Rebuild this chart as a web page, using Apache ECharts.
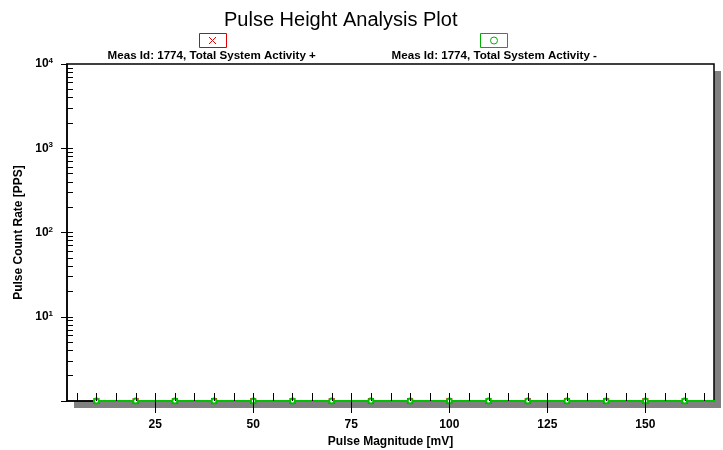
<!DOCTYPE html>
<html>
<head>
<meta charset="utf-8">
<script src="https://cdn.jsdelivr.net/npm/echarts@6/dist/echarts.min.js"></script>
<style>html,body{margin:0;padding:0;background:#fff;}#c{width:723px;height:450px;}</style>
</head>
<body>
<div id="c"></div>
<script>
// ---- data ----
const pulseMagnitude = [10, 20, 30, 40, 50, 60, 70, 80, 90, 100, 110, 120, 130, 140, 150, 160, 170];
const activityPlus  = [1, 1, 1, 1, 1, 1, 1, 1, 1, 1, 1, 1, 1, 1, 1, 1, 1];
const activityMinus = [1, 1, 1, 1, 1, 1, 1, 1, 1, 1, 1, 1, 1, 1, 1, 1, 1];
const seriesNames = ['Meas Id: 1774, Total System Activity +', 'Meas Id: 1774, Total System Activity -'];
const xMajorTicks = [25, 50, 75, 100, 125, 150];
const xMinorTicks = [5,10,15,20,25,30,35,40,45,50,55,60,65,70,75,80,85,90,95,100,105,110,115,120,125,130,135,140,145,150,155,160,165];
const yMinorTicks = [2,3,4,5,6,7,8,9,10,20,30,40,50,60,70,80,90,100,200,300,400,500,600,700,800,900,1000,2000,3000,4000,5000,6000,7000,8000,9000];
const xRange = [2.5, 167.5];
const yRange = [1, 10000];

const FONT = 'Liberation Sans, Arial, sans-serif';
const pairs = a => pulseMagnitude.map((x, i) => [x, a[i]]);

const G = {left: 67, right: 9, top: 64, bottom: 49};
const W = 723, H = 450;
const pw = W - G.left - G.right, ph = H - G.top - G.bottom;

const baseEls = [
  // plot drop shadow (plot face is the grid background)
  {id: 'shadow', type: 'rect', z: -50, shape: {x: G.left + 7, y: G.top + 7, width: pw, height: ph}, style: {fill: '#808080'}},
  // legend symbol boxes
  {id: 'lb1', type: 'rect', shape: {x: 199.5, y: 33.5, width: 27, height: 14}, style: {fill: '#fff', stroke: '#e00000', lineWidth: 1}},
  {id: 'lx1', type: 'polyline', shape: {points: [[209, 37], [216, 44]]}, style: {stroke: '#e00000', lineWidth: 1}},
  {id: 'lx2', type: 'polyline', shape: {points: [[216, 37], [209, 44]]}, style: {stroke: '#e00000', lineWidth: 1}},
  {id: 'lb2', type: 'rect', shape: {x: 480.5, y: 33.5, width: 27, height: 14}, style: {fill: '#fff', stroke: '#00b000', lineWidth: 1}},
  {id: 'lc', type: 'circle', shape: {cx: 494, cy: 40.5, r: 3.5}, style: {fill: 'none', stroke: '#00b000', lineWidth: 1}}
];

const chart = echarts.init(document.getElementById('c'), null, {renderer: 'canvas'});
chart.setOption({
  animation: false,
  backgroundColor: '#fff',
  textStyle: {fontFamily: FONT},
  title: {
    text: 'Pulse Height Analysis Plot',
    left: 219, top: 5,
    textStyle: {fontFamily: FONT, fontSize: 20, fontWeight: 'normal', color: '#000'}
  },
  legend: [
    {data: [seriesNames[0]], left: 96, top: 49, padding: 0, itemWidth: 0, itemHeight: 14,
     itemStyle: {opacity: 0}, selectedMode: false,
     textStyle: {fontFamily: FONT, fontSize: 11.6, fontWeight: 'bold', color: '#000'}},
    {data: [seriesNames[1]], left: 380, top: 49, padding: 0, itemWidth: 0, itemHeight: 14,
     itemStyle: {opacity: 0}, selectedMode: false,
     textStyle: {fontFamily: FONT, fontSize: 11.6, fontWeight: 'bold', color: '#000'}}
  ],
  graphic: {elements: baseEls},
  grid: {
    left: G.left, right: G.right, top: G.top, bottom: G.bottom, z: 0,
    outerBoundsMode: 'none',
    show: true, backgroundColor: '#fff', borderColor: '#000', borderWidth: 1.5
  },
  xAxis: [
    {
      type: 'value', min: xRange[0], max: xRange[1], position: 'bottom', z: 10,
      name: 'Pulse Magnitude [mV]', nameLocation: 'middle', nameGap: 33,
      nameTextStyle: {fontFamily: FONT, fontSize: 12, fontWeight: 'bold', color: '#000'},
      axisLine: {show: true, onZero: false, lineStyle: {color: '#000', width: 1.5}},
      axisTick: {show: false},
      axisLabel: {show: true, customValues: xMajorTicks, margin: 18, fontFamily: FONT, fontSize: 12, fontWeight: 'bold', color: '#000'},
      splitLine: {show: false}
    }
  ],
  yAxis: [
    {
      type: 'log', logBase: 10, min: yRange[0], max: yRange[1], position: 'left', z: 10,
      name: 'Pulse Count Rate [PPS]', nameLocation: 'middle', nameGap: 33,
      nameTextStyle: {fontFamily: FONT, fontSize: 12, fontWeight: 'bold', color: '#000'},
      axisLine: {show: true, onZero: false, lineStyle: {color: '#000', width: 1.5}},
      axisTick: {show: true, inside: false, length: 6, lineStyle: {color: '#000', width: 1}},
      axisLabel: {
        margin: 14,
        formatter: v => v <= 1 ? '' : '{b|10}{s|' + Math.round(Math.log10(v)) + '}',
        rich: {
          b: {fontFamily: FONT, fontSize: 12, fontWeight: 'bold', color: '#000', lineHeight: 14},
          s: {fontFamily: FONT, fontSize: 8, fontWeight: 'bold', color: '#000', verticalAlign: 'top', lineHeight: 8}
        }
      },
      splitLine: {show: false}
    },
    {
      type: 'log', logBase: 10, min: yRange[0], max: yRange[1], position: 'left', offset: 0, gridIndex: 0, z: 10,
      axisLine: {show: false, onZero: false},
      axisTick: {show: true, inside: true, length: 6, customValues: yMinorTicks, lineStyle: {color: '#000', width: 1}},
      axisLabel: {show: false},
      splitLine: {show: false}
    }
  ],
  series: [
    {
      name: seriesNames[0], type: 'line', xAxisIndex: 0, yAxisIndex: 0,
      data: pairs(activityPlus), clip: true, z: 11,
      symbol: 'path://M0,0L10,10M10,0L0,10', symbolSize: 6, showAllSymbol: true,
      lineStyle: {color: '#e00000', width: 2},
      itemStyle: {color: '#e00000', borderColor: '#e00000', borderWidth: 1}
    },
    {
      name: seriesNames[1], type: 'line', xAxisIndex: 0, yAxisIndex: 0,
      data: pairs(activityMinus), clip: true, z: 12,
      symbol: 'emptyCircle', symbolSize: 5, showAllSymbol: true,
      lineStyle: {color: '#00c000', width: 2},
      itemStyle: {color: '#00c000', borderColor: '#00c000', borderWidth: 1}
    }
  ]
});

// x-axis tick marks placed through the library's own x scale
const yBase = Math.round(chart.convertToPixel({yAxisIndex: 0}, yRange[0]));
const tickEls = [];
xMinorTicks.forEach((v, i) => {
  const px = Math.round(chart.convertToPixel({xAxisIndex: 0}, v)) + 0.5;
  tickEls.push({id: 'xmin' + i, type: 'line', z: 100,
    shape: {x1: px, y1: yBase, x2: px, y2: yBase - 8}, style: {stroke: '#000', lineWidth: 1}});
});
xMajorTicks.forEach((v, i) => {
  const px = Math.round(chart.convertToPixel({xAxisIndex: 0}, v)) + 0.5;
  tickEls.push({id: 'xmaj' + i, type: 'line', z: 100,
    shape: {x1: px, y1: yBase + 12, x2: px, y2: yBase}, style: {stroke: '#000', lineWidth: 1}});
});
chart.setOption({graphic: {elements: baseEls.concat(tickEls)}});
</script>
</body>
</html>
